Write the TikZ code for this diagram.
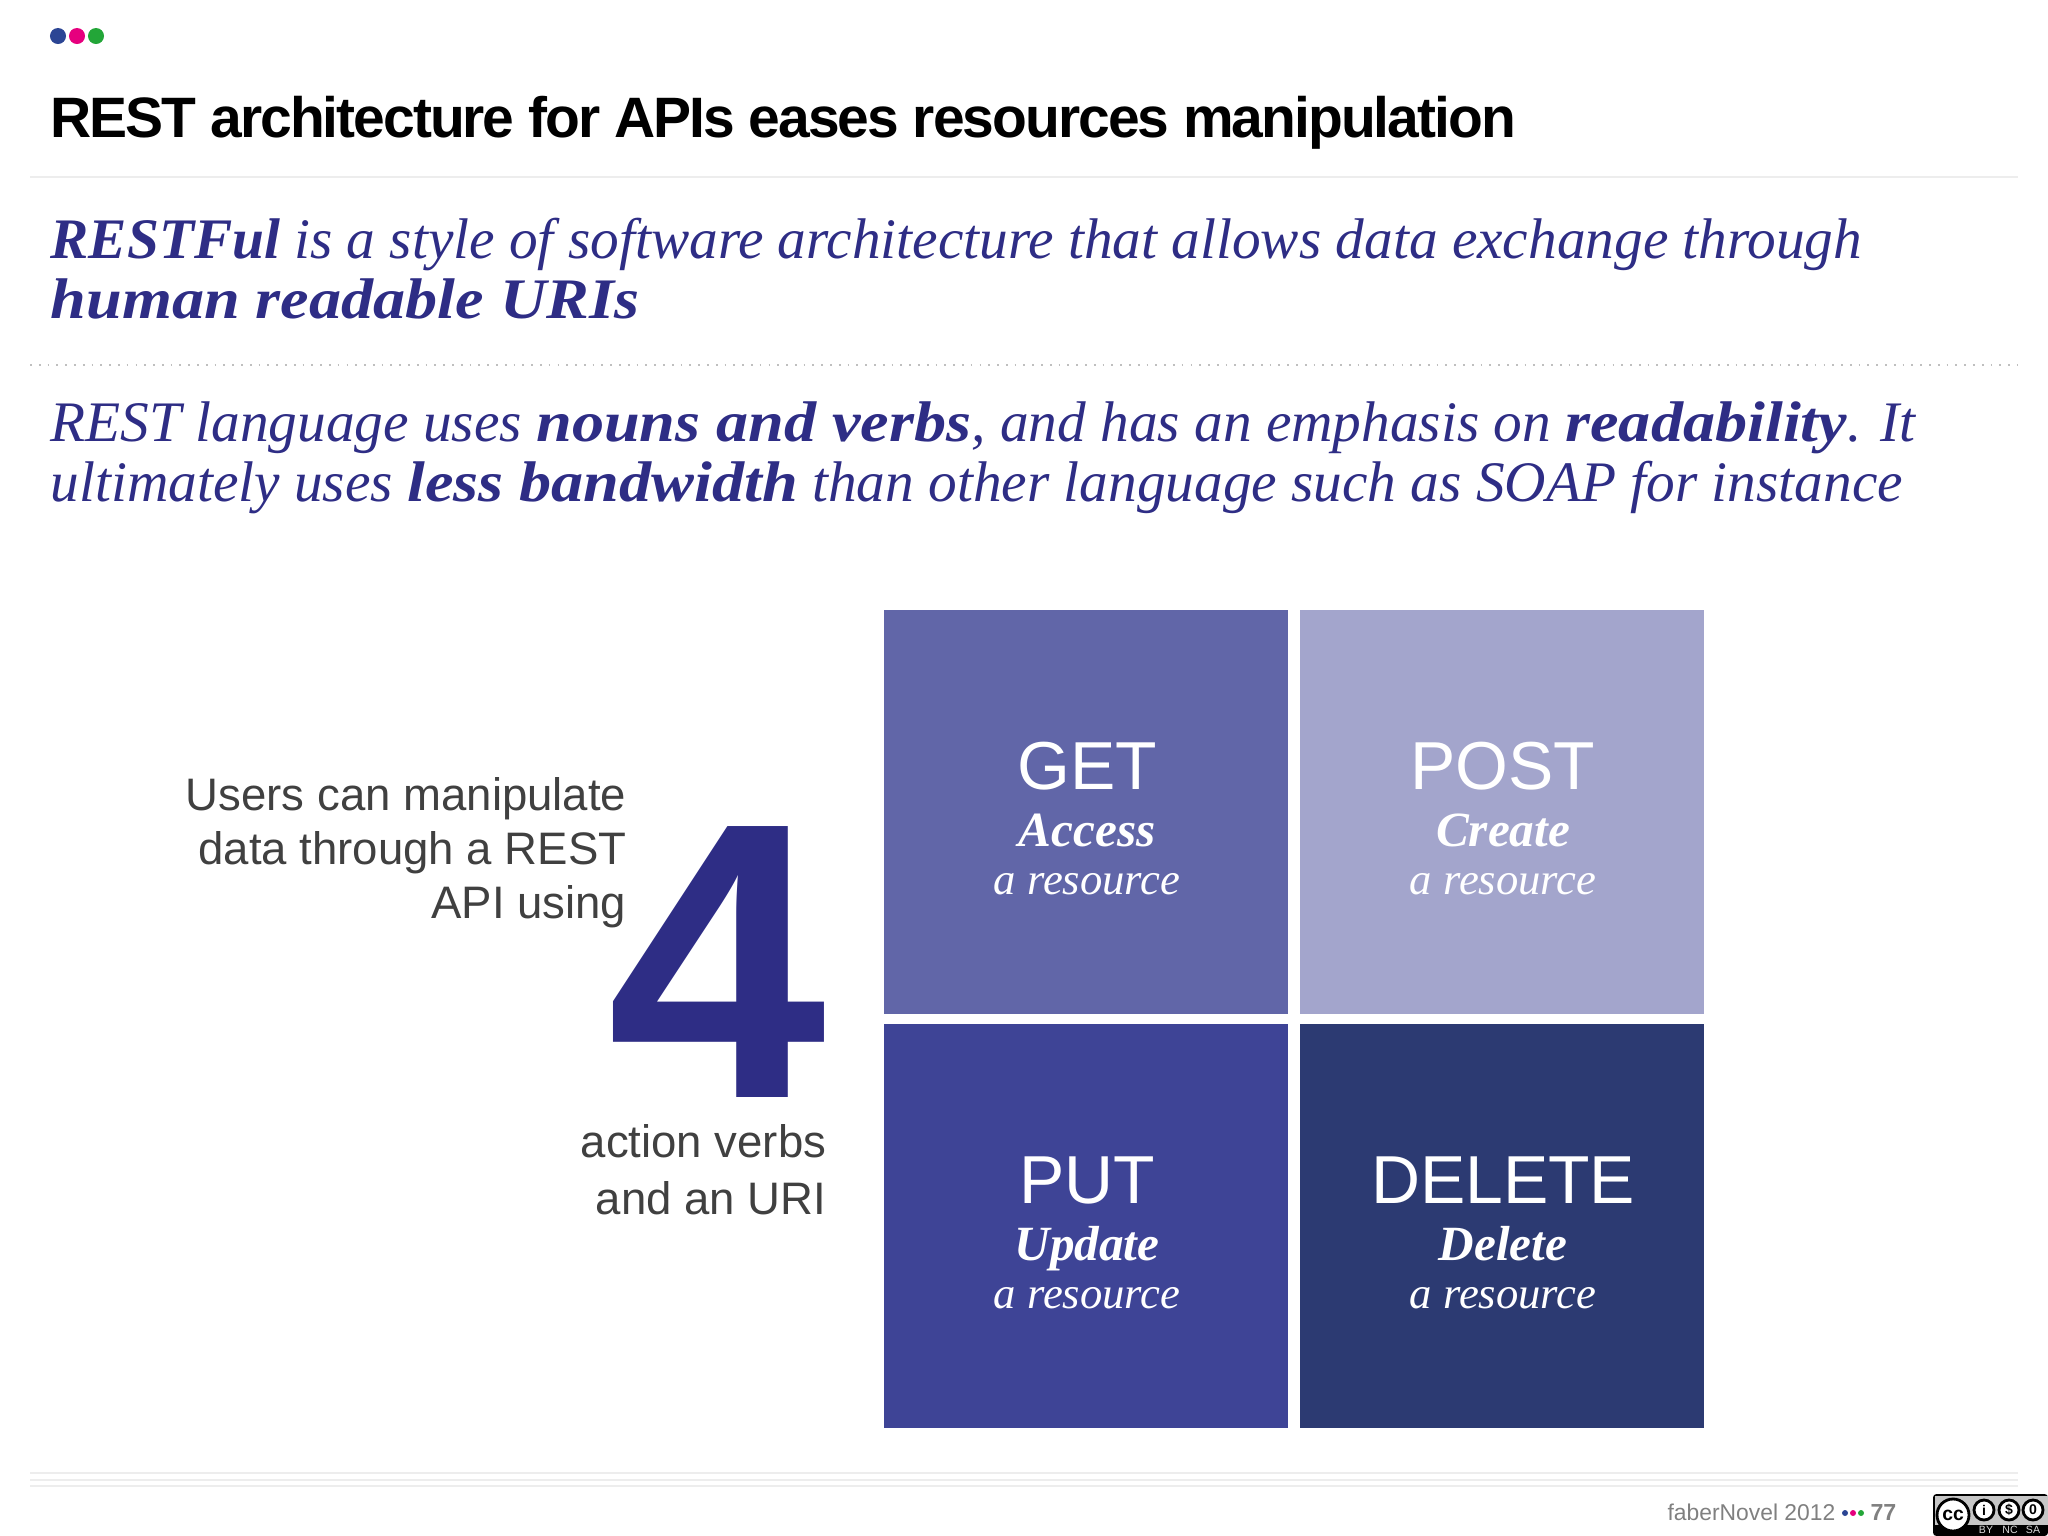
\documentclass[tikz,border=0pt]{standalone}
\usepackage{fontspec}
\setmainfont{Liberation Serif}
\setsansfont{Liberation Sans}
\definecolor{leadblue}{HTML}{2E2D85}
\definecolor{sidegray}{HTML}{404040}
\definecolor{tileget}{HTML}{6166A8}
\definecolor{tilepost}{HTML}{A3A5CC}
\definecolor{tileput}{HTML}{3E4496}
\definecolor{tiledel}{HTML}{2C3A72}
\definecolor{dotblue}{HTML}{2B4594}
\definecolor{dotpink}{HTML}{E6007E}
\definecolor{dotgreen}{HTML}{23A638}
\newcommand{\boldword}[1]{{\bfseries\addfontfeature{FakeStretch=1.12}#1}}
\begin{document}
\begin{tikzpicture}
  [x=0.01cm, y=-0.01cm,
   dot/.style={circle, inner sep=0pt, minimum size=0.16cm},
   minidot/.style={circle, inner sep=0pt, minimum size=0.06cm},
   tile/.style={inner sep=0pt, minimum width=4.04cm, minimum height=4.04cm},
   verb/.style={font=\sffamily\fontsize{19.3}{19.3}\selectfont, text=white},
   act/.style={font=\fontsize{14}{14}\selectfont\bfseries\itshape, text=white, anchor=base},
   res/.style={font=\fontsize{12.7}{12.7}\selectfont\itshape, text=white, anchor=base},
   lead/.style={font=\fontsize{16.3}{16.3}\selectfont\itshape, text=leadblue, anchor=base west, inner sep=0pt},
   side/.style={font=\sffamily\fontsize{12.95}{12.95}\selectfont, text=sidegray, anchor=base east, inner sep=0pt},
   rule/.style={gray!14, line width=0.5pt},
   badge/.style={circle, draw=black, fill=white, line width=0.8pt, inner sep=0pt},
   badgetext/.style={text=gray!30, inner sep=0pt, font=\sffamily\fontsize{3}{3}\selectfont}]

  \useasboundingbox (0,0) rectangle (2048,1536);

  \node[dot, fill=dotblue] (dota) at (58,36) {};
  \node[dot, fill=dotpink] (dotb) at (77,36) {};
  \node[dot, fill=dotgreen] (dotc) at (96,36) {};

  \node[anchor=base west, inner sep=0pt, font=\sffamily\bfseries\fontsize{16.2}{16.2}\selectfont\addfontfeature{LetterSpace=-3.5}] (title) at (50,137) {REST architecture for APIs eases resources manipulation};

  % Rules under the title and between the two paragraphs
  \coordinate (rulea) at (30,177);
  \coordinate (ruleb) at (2018,177);
  \draw[rule] (rulea) -- (ruleb);
  \coordinate (rulec) at (30,365);
  \coordinate (ruled) at (2018,365);
  \draw[gray!50, line width=0.5pt, dotted] (rulec) -- (ruled);

  % Paragraphs
  \node[lead] (leada) at (50,258) {\textbf{RESTFul} is a style of software architecture that allows data exchange through};
  \node[lead] (leadb) at (50,318) {\boldword{human readable URIs}};
  \node[lead] (leadc) at (50,441) {REST language uses \boldword{nouns and verbs}, and has an emphasis on \boldword{readability}. It};
  \node[lead] (leadd) at (50,501) {ultimately uses \boldword{less bandwidth} than other language such as SOAP for instance};

  % Tiles
  \node[tile, fill=tileget] (get) at (1086,812) {};
  \node[tile, fill=tilepost] (post) at (1502,812) {};
  \node[tile, fill=tileput] (put) at (1086,1226) {};
  \node[tile, fill=tiledel] (del) at (1502,1226) {};

  \node[verb] (getv) at (1087,766) {GET};
  \node[act] (geta) at (1087,846) {Access};
  \node[res] (getr) at (1087,894) {a resource};
  \node[verb] (postv) at (1503,766) {POST};
  \node[act] (posta) at (1503,846) {Create};
  \node[res] (postr) at (1503,894) {a resource};
  \node[verb] (putv) at (1087,1180) {PUT};
  \node[act] (puta) at (1087,1260) {Update};
  \node[res] (putr) at (1087,1308) {a resource};
  \node[verb] (delv) at (1503,1180) {DELETE};
  \node[act] (dela) at (1503,1260) {Delete};
  \node[res] (delr) at (1503,1308) {a resource};

  % Left column
  \node[side] (usera) at (627,810) {Users can manipulate};
  \node[side] (userb) at (627,864) {data through a REST};
  \node[side] (userc) at (627,918) {API using};
  \node[anchor=base, inner sep=0pt, text=leadblue, font=\sffamily\bfseries\fontsize{112}{112}\selectfont] (four) at (717,1097) {4};
  \node[side] (actiona) at (827,1157) {action verbs};
  \node[side] (actionb) at (827,1214) {and an URI};

  % Footer
  \coordinate (rulee) at (30,1473);
  \coordinate (rulef) at (2018,1473);
  \draw[rule] (rulee) -- (rulef);
  \coordinate (ruleg) at (30,1480);
  \coordinate (ruleh) at (2018,1480);
  \draw[rule] (ruleg) -- (ruleh);
  \coordinate (rulei) at (30,1486);
  \coordinate (rulej) at (2018,1486);
  \draw[rule] (rulei) -- (rulej);

  \node[anchor=base east, inner sep=0pt, text=gray, font=\sffamily\fontsize{6.5}{6.5}\selectfont] (foot) at (1836,1520) {faberNovel 2012};
  \node[minidot, fill=dotblue] (minia) at (1845,1513) {};
  \node[minidot, fill=dotpink] (minib) at (1853,1513) {};
  \node[minidot, fill=dotgreen] (minic) at (1861,1513) {};
  \node[anchor=base east, inner sep=0pt, text=gray, font=\sffamily\bfseries\fontsize{6.6}{6.6}\selectfont] (page) at (1897,1520) {77};

  % Licence badge
  \fill[black, rounded corners=1pt] (1933,1494) rectangle (2048,1536);
  \fill[gray!45] (1935,1496) rectangle (2048,1525);
  \node[badge, minimum size=0.32cm, font=\sffamily\bfseries\fontsize{5.5}{5.5}\selectfont] (cc) at (1953,1515) {cc};
  \node[badge, minimum size=0.2cm, font=\sffamily\bfseries\fontsize{4}{4}\selectfont] (by) at (1984,1510) {i};
  \node[badge, minimum size=0.2cm, font=\sffamily\bfseries\fontsize{4}{4}\selectfont] (nc) at (2009,1510) {\$};
  \node[badge, minimum size=0.2cm, font=\sffamily\bfseries\fontsize{4}{4}\selectfont] (sa) at (2033,1510) {0};
  \node[badgetext] (byl) at (1986,1530) {BY};
  \node[badgetext] (ncl) at (2010,1530) {NC};
  \node[badgetext] (sal) at (2033,1530) {SA};
\end{tikzpicture}
\end{document}
